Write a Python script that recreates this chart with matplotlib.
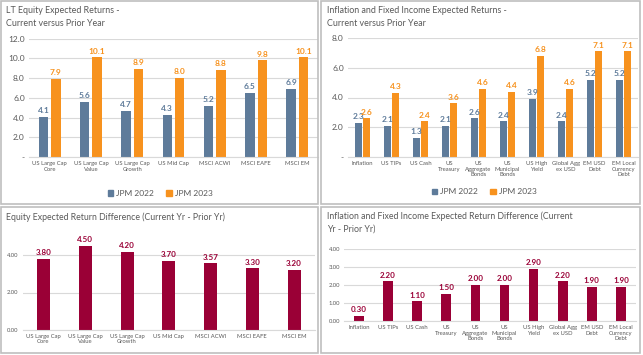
import matplotlib
matplotlib.use('Agg')
import matplotlib.pyplot as plt
import numpy as np
from matplotlib.patches import Rectangle, Patch

plt.rcParams['font.family'] = ['Lato', 'DejaVu Sans']

# 数据
eq_cats = ['US Large Cap\nCore', 'US Large Cap\nValue', 'US Large Cap\nGrowth', 'US Mid Cap',
           'MSCI ACWI', 'MSCI EAFE', 'MSCI EM']
eq_2022 = [4.1, 5.6, 4.7, 4.3, 5.2, 6.5, 6.9]
eq_2023 = [7.9, 10.1, 8.9, 8.0, 8.8, 9.8, 10.1]
eq_diff = [3.80, 4.50, 4.20, 3.70, 3.57, 3.30, 3.20]

fi_cats = ['Inflation', 'US TIPs', 'US Cash', 'US\nTreasury', 'US\nAggregate\nBonds',
           'US\nMunicipal\nBonds', 'US High\nYield', 'Global Agg\nex USD', 'EM USD\nDebt',
           'EM Local\nCurrency\nDebt']
fi_2022 = [2.3, 2.1, 1.3, 2.1, 2.6, 2.4, 3.9, 2.4, 5.2, 5.2]
fi_2023 = [2.6, 4.3, 2.4, 3.6, 4.6, 4.4, 6.8, 4.6, 7.1, 7.1]
fi_diff = [0.30, 2.20, 1.10, 1.50, 2.00, 2.00, 2.90, 2.20, 1.90, 1.90]

BLUE = '#5E7B9A'
ORANGE = '#F7921E'
MAROON = '#9A0036'
GRID = '#D9D9D9'
TXT = '#595959'

W, H = 643, 355
fig = plt.figure(figsize=(W / 100, H / 100), dpi=100)


def ax_px(x0, y0, x1, y1):
    return fig.add_axes([x0 / W, 1 - y1 / H, (x1 - x0) / W, (y1 - y0) / H])


def box(x0, y0, x1, y1):
    fig.patches.append(Rectangle((x0 / W, 1 - y1 / H), (x1 - x0) / W, (y1 - y0) / H,
                                 transform=fig.transFigure, fill=False,
                                 edgecolor='#BFBFBF', linewidth=1.2))


def style(ax, cats, ymax, yticks, fmt, ysize, xsize):
    ax.set_xlim(-0.5, len(cats) - 0.5)
    ax.set_ylim(0, ymax)
    ax.set_yticks(yticks)
    ax.set_yticklabels([fmt(v) for v in yticks], fontsize=ysize, color=TXT)
    ax.set_xticks(np.arange(len(cats)))
    ax.set_xticklabels(cats, fontsize=xsize, color=TXT, linespacing=1.1)
    ax.tick_params(axis='both', length=0, pad=3)
    ax.yaxis.grid(True, color=GRID, linewidth=0.8)
    ax.set_axisbelow(True)
    for s in ['top', 'right', 'left']:
        ax.spines[s].set_visible(False)
    ax.spines['bottom'].set_color(GRID)
    ax.patch.set_alpha(0)


# 面板边框
box(1, 1, 318, 204)
box(321, 1, 640, 204)
box(1, 207, 318, 353)
box(321, 207, 640, 353)

# 左上
ax1 = ax_px(29, 38.7, 318, 157)
x = np.arange(len(eq_cats))
b1 = ax1.bar(x - 0.15, eq_2022, 0.23, color=BLUE, label='JPM 2022')
b2 = ax1.bar(x + 0.15, eq_2023, 0.23, color=ORANGE, label='JPM 2023')
style(ax1, eq_cats, 12, np.arange(0, 13, 2),
      lambda v: '-' if v == 0 else '%.1f' % v, 6, 4.2)
ax1.bar_label(b1, fmt='%.1f', color=BLUE, fontsize=6, fontweight='bold', padding=2)
ax1.bar_label(b2, fmt='%.1f', color=ORANGE, fontsize=6, fontweight='bold', padding=2)
fig.text(6 / W, 1 - 17 / H, 'LT Equity Expected Returns -\nCurrent versus Prior Year',
         fontsize=6.4, color=TXT, va='center', linespacing=1.55)
fig.legend(handles=[Patch(color=BLUE, label='JPM 2022'), Patch(color=ORANGE, label='JPM 2023')],
           loc='center', bbox_to_anchor=(160 / W, 1 - 193 / H), ncol=2, frameon=False,
           fontsize=6, handlelength=0.7, handleheight=0.7, handletextpad=0.3,
           columnspacing=1.5, labelcolor=TXT)

# 右上
ax2 = ax_px(348, 38, 638, 157)
x = np.arange(len(fi_cats))
b3 = ax2.bar(x - 0.15, fi_2022, 0.24, color=BLUE)
b4 = ax2.bar(x + 0.15, fi_2023, 0.24, color=ORANGE)
style(ax2, fi_cats, 8, np.arange(0, 9, 2),
      lambda v: '-' if v == 0 else '%.1f' % v, 6, 4.2)
ax2.bar_label(b3, fmt='%.1f', color=BLUE, fontsize=6, fontweight='bold', padding=2)
ax2.bar_label(b4, fmt='%.1f', color=ORANGE, fontsize=6, fontweight='bold', padding=2)
fig.text(327 / W, 1 - 17 / H, 'Inflation and Fixed Income Expected Returns -\nCurrent versus Prior Year',
         fontsize=6.4, color=TXT, va='center', linespacing=1.55)
fig.legend(handles=[Patch(color=BLUE, label='JPM 2022'), Patch(color=ORANGE, label='JPM 2023')],
           loc='center', bbox_to_anchor=(484 / W, 1 - 192 / H), ncol=2, frameon=False,
           fontsize=6, handlelength=0.7, handleheight=0.7, handletextpad=0.3,
           columnspacing=1.5, labelcolor=TXT)

# 左下
ax3 = ax_px(22.6, 236.7, 315, 329.7)
x = np.arange(len(eq_cats))
b5 = ax3.bar(x, eq_diff, 0.31, color=MAROON)
style(ax3, eq_cats, 5, [0, 2, 4], lambda v: '%.2f' % v, 4.2, 4.2)
ax3.bar_label(b5, fmt='%.2f', color=MAROON, fontsize=5.8, fontweight='bold', padding=2)
fig.text(6 / W, 1 - 217 / H, 'Equity Expected Return Difference (Current Yr - Prior Yr)',
         fontsize=6.3, color=TXT, va='center')

# 右下
ax4 = ax_px(344.4, 248.7, 635.5, 321.3)
x = np.arange(len(fi_cats))
b6 = ax4.bar(x, fi_diff, 0.33, color=MAROON)
style(ax4, fi_cats, 4, [0, 1, 2, 3, 4], lambda v: '%.2f' % v, 4.2, 4.2)
ax4.bar_label(b6, fmt='%.2f', color=MAROON, fontsize=5.8, fontweight='bold', padding=2)
fig.text(327 / W, 1 - 222.5 / H,
         'Inflation and Fixed Income Expected Return Difference (Current\nYr - Prior Yr)',
         fontsize=6.3, color=TXT, va='center', linespacing=1.55)

fig.savefig('out.png', dpi=100)
